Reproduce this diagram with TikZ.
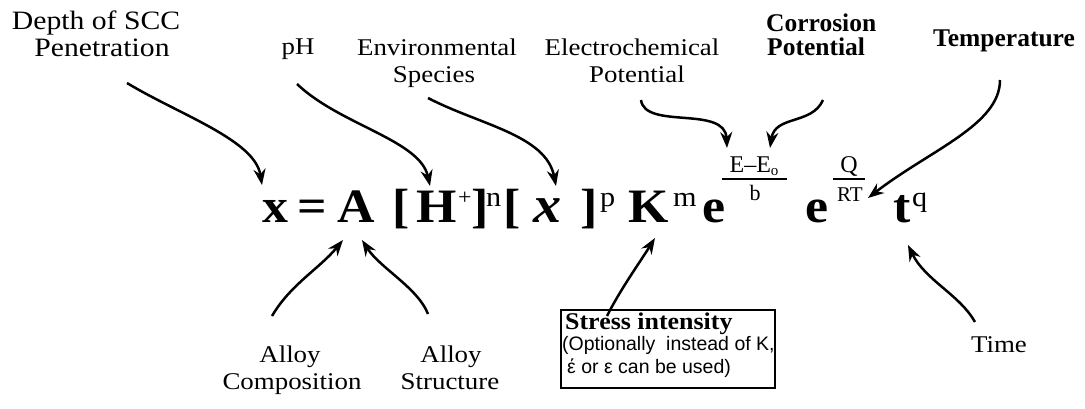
\documentclass[tikz,border=0pt]{standalone}
\usepackage{fontspec}
\setmainfont{Liberation Serif}
\newfontfamily\lblfont[FakeStretch=1.12]{Liberation Serif}
\newfontfamily\eqfont[FakeStretch=1.08]{Liberation Serif}
\newfontfamily\boxsans{Liberation Sans}
\usetikzlibrary{arrows.meta}
\tikzset{
  lbl/.style={font=\lblfont\fontsize{24}{26}\selectfont, inner sep=0, anchor=base},
  biglbl/.style={font=\lblfont\fontsize{26.5}{28}\selectfont, inner sep=0, anchor=base},
  blbl/.style={font=\fontsize{25.5}{27}\selectfont\bfseries, inner sep=0, anchor=base west},
  eqb/.style={font=\eqfont\fontsize{48}{50}\selectfont\bfseries, inner sep=0, anchor=base west},
  eqs/.style={font=\eqfont\fontsize{28}{30}\selectfont, inner sep=0, anchor=base west},
  frc/.style={font=\fontsize{24}{26}\selectfont, inner sep=0, anchor=base},
  fbar/.style={line width=1.6pt},
  arr/.style={line width=2.5pt, -{Stealth[length=16pt,width=12pt]}},
  boxtxt/.style={font=\boxsans\fontsize{19.5}{21}\selectfont, inner sep=0, anchor=base west}
}
\begin{document}
\begin{tikzpicture}[x=1pt,y=-1pt]
\useasboundingbox (0,0) rectangle (1085,408);
% ---- top labels
\node[biglbl] (depth1) at (96,29) {Depth of SCC};
\node[biglbl] (depth2) at (102,56) {Penetration};
\node[lbl] (ph) at (298,54) {pH};
\node[lbl] (env1) at (437,55) {Environmental};
\node[lbl] (env2) at (434,82) {Species};
\node[lbl] (ech1) at (632,55) {Electrochemical};
\node[lbl] (ech2) at (637,82) {Potential};
\node[blbl] (cor1) at (766,31) {Corrosion};
\node[blbl] (cor2) at (767,55) {Potential};
\node[blbl] (temp) at (933,46) {Temperature};
% ---- equation
\node[eqb] (vx) at (262,222) {x};
\node[eqb] (eqs) at (297,222) {=};
\node[eqb] (A) at (337,222) {A};
\node[eqb] (lb1) at (392,222) {[};
\node[eqb] (H) at (416,222) {H};
\node[eqs,font=\eqfont\fontsize{22}{24}\selectfont] (plus) at (458,204) {+};
\node[eqb] (rb1) at (471,222) {]};
\node[eqs] (n) at (486,206) {n};
\node[eqb] (lb2) at (503,222) {[};
\node[eqb,font=\eqfont\fontsize{52}{54}\selectfont\bfseries\itshape] (xi) at (533,222) {x};
\node[eqb] (rb2) at (580,222) {]};
\node[eqs] (p) at (600,206) {p};
\node[eqb] (K) at (628,222) {K};
\node[eqs] (m) at (673,206) {m};
\node[eqb] (e1) at (702,222) {e};
\node[frc] (num1) at (754,172) {E–E\raisebox{-3pt}{\fontsize{15}{15}\selectfont o}};
\draw[fbar] (722,179) -- (787,179);
\node[frc,font=\fontsize{22}{24}\selectfont] (den1) at (755,200) {b};
\node[eqb] (e2) at (805,222) {e};
\node[frc] (num2) at (849,172) {Q};
\draw[fbar] (833,179) -- (865,179);
\node[frc,font=\fontsize{21}{23}\selectfont] (den2) at (850,201) {RT};
\node[eqb] (t) at (893,222) {t};
\node[eqs] (q) at (912,206) {q};
% ---- bottom labels
\node[lbl] (ac1) at (290,362) {Alloy};
\node[lbl] (ac2) at (292,389) {Composition};
\node[lbl] (as1) at (451,362) {Alloy};
\node[lbl] (as2) at (450,389) {Structure};
\node[lbl] (time) at (999,352) {Time};
\node[draw, line width=1.8pt, minimum width=214pt, minimum height=78pt, inner sep=0, anchor=north west] (box) at (560,309) {};
\node[font=\eqfont\fontsize{24}{26}\selectfont\bfseries, inner sep=0, anchor=base west] (st1) at (565,329) {Stress intensity};
\node[boxtxt] (st2) at (562,350) {(Optionally\ \ instead of K,};
\node[boxtxt] (st3) at (567,373) {έ or ε can be used)};
% ---- connector end points
\coordinate (tDepth) at (127,83);  \coordinate (hDepth) at (262,185);
\coordinate (tPh) at (297,84);     \coordinate (hPh) at (430,186);
\coordinate (tEnv) at (428,98);    \coordinate (hEnv) at (556,186);
\coordinate (tEch) at (641,100);   \coordinate (hEch) at (727,148);
\coordinate (tCor) at (823,100);   \coordinate (hCor) at (770,148);
\coordinate (tTemp) at (1000,80);  \coordinate (hTemp) at (868,198);
\coordinate (tAc) at (272,316);    \coordinate (hAc) at (343,240);
\coordinate (tAs) at (428,314);    \coordinate (hAs) at (362,240);
\coordinate (tSt) at (607,316);    \coordinate (hSt) at (655,238);
\coordinate (tTime) at (975,322);  \coordinate (hTime) at (908,245);
% ---- arrows
\draw[arr] (tDepth) .. controls (180,115) and (255,140) .. (hDepth);
\draw[arr] (tPh) .. controls (340,125) and (420,140) .. (hPh);
\draw[arr] (tEnv) .. controls (480,125) and (546,135) .. (hEnv);
\draw[arr] (tEch) .. controls (645,130) and (725,105) .. (hEch);
\draw[arr] (tCor) .. controls (812,125) and (775,115) .. (hCor);
\draw[arr] (tTemp) .. controls (1000,125) and (930,150) .. (hTemp);
\draw[arr] (tAc) .. controls (290,285) and (320,268) .. (hAc);
\draw[arr] (tAs) .. controls (418,288) and (380,268) .. (hAs);
\draw[arr] (tSt) .. controls (620,290) and (640,262) .. (hSt);
\draw[arr] (tTime) .. controls (960,295) and (925,280) .. (hTime);
\end{tikzpicture}
\end{document}
